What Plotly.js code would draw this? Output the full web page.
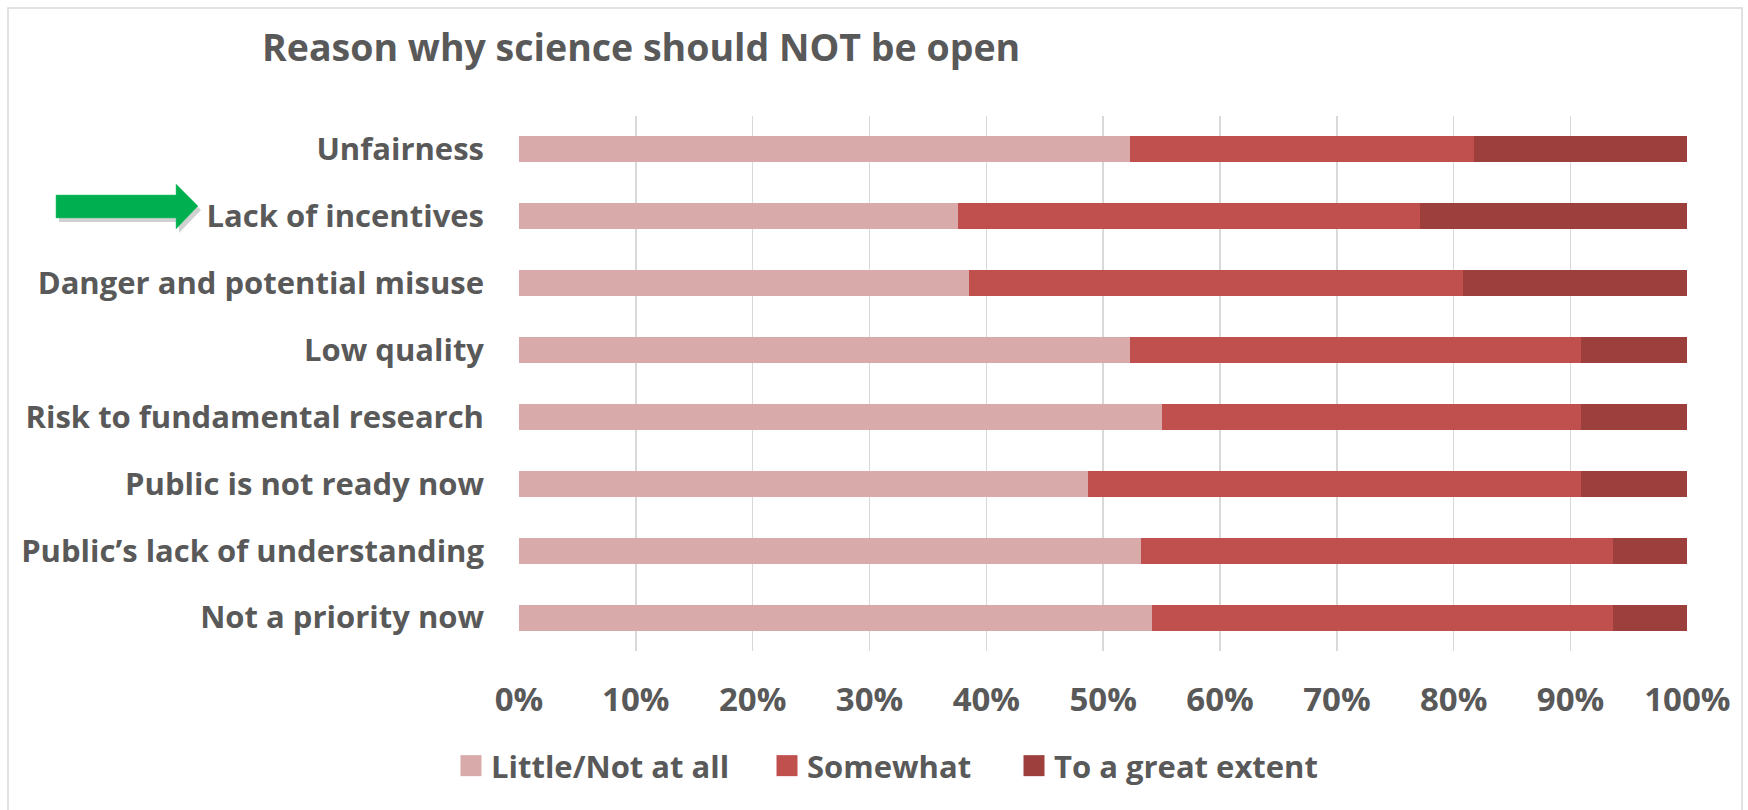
<!DOCTYPE html>
<html>
<head>
<meta charset="utf-8">
<script src="https://cdn.plot.ly/plotly-3.0.1.min.js"></script>
<style>
  html, body { margin: 0; padding: 0; background: #ffffff; }
  #chart { width: 1748px; height: 810px; }
</style>
</head>
<body>
<div id="chart"></div>
<script>
// Reasons listed top to bottom
const reasons = [
  "Unfairness",
  "Lack of incentives",
  "Danger and potential misuse",
  "Low quality",
  "Risk to fundamental research",
  "Public is not ready now",
  "Public\u2019s lack of understanding",
  "Not a priority now"
];

// Share of answers per reason (fractions of 1)
const littleNotAtAll = [0.523, 0.376, 0.385, 0.523, 0.550, 0.487, 0.532, 0.542];
const somewhat       = [0.294, 0.395, 0.423, 0.386, 0.359, 0.422, 0.404, 0.394];
const greatExtent    = [0.183, 0.229, 0.192, 0.091, 0.091, 0.091, 0.064, 0.064];

const seriesNames = ["Little/Not at all", "Somewhat", "To a great extent"];
const seriesColors = ["#D9AAAA", "#C0504D", "#9D3F3D"];
const xTickVals = [0, 0.1, 0.2, 0.3, 0.4, 0.5, 0.6, 0.7, 0.8, 0.9, 1.0];
const xTickText = ["0%", "10%", "20%", "30%", "40%", "50%", "60%", "70%", "80%", "90%", "100%"];

const textColor = "#595959";
const fontFamily = "'Open Sans', 'Liberation Sans', sans-serif";

// Each series gets its own legend box so the entries can be spaced freely
const legendIds = ["legend", "legend2", "legend3"];
const legendLeft = [451, 767, 1014];

const seriesValues = [littleNotAtAll, somewhat, greatExtent];
const traces = seriesValues.map((vals, i) => ({
  type: "bar",
  orientation: "h",
  name: seriesNames[i],
  legend: legendIds[i],
  y: reasons,
  x: vals,
  marker: { color: seriesColors[i], line: { width: 0 } },
  hovertemplate: "%{y}: %{x:.0%}<extra>" + seriesNames[i] + "</extra>"
}));

// Plot area in pixels, used to place the decorations in paper units
const W = 1748, H = 810;
const M = { l: 519, r: 60, t: 116, b: 159 };
const pw = W - M.l - M.r, ph = H - M.t - M.b;
const px = v => (v - M.l) / pw;
const py = v => (H - M.b - v) / ph;

function arrowPath(dx, dy) {
  const pts = [
    [56, 195], [176, 195], [176, 184], [198, 206],
    [176, 229], [176, 218], [56, 218]
  ];
  return pts.map((p, i) => (i ? "L" : "M") + px(p[0] + dx).toFixed(5) + "," + py(p[1] + dy).toFixed(5)).join(" ") + " Z";
}

const legendFont = { family: fontFamily, size: 31, color: textColor, weight: "bold" };

const layout = {
  width: W,
  height: H,
  margin: M,
  paper_bgcolor: "#ffffff",
  plot_bgcolor: "#ffffff",
  barmode: "stack",
  bargap: 0.61,
  font: { family: fontFamily, color: textColor },
  title: {
    text: "<b>Reason why science should NOT be open</b>",
    font: { family: fontFamily, size: 37.5, color: textColor },
    xref: "container",
    yref: "container",
    x: 262 / W,
    xanchor: "left",
    y: 1 - 48 / H,
    yanchor: "middle"
  },
  xaxis: {
    range: [0, 1.0005],
    tickvals: xTickVals,
    ticktext: xTickText,
    showgrid: true,
    gridcolor: "#D9D9D9",
    gridwidth: 1.5,
    zeroline: false,
    showline: false,
    ticks: "",
    ticklabelstandoff: 26,
    tickfont: { family: fontFamily, size: 33, color: textColor, weight: "bold" },
    fixedrange: true
  },
  yaxis: {
    autorange: "reversed",
    showgrid: false,
    zeroline: false,
    showline: false,
    ticks: "",
    ticklabelstandoff: 34,
    tickfont: { family: fontFamily, size: 31, color: textColor, weight: "bold" },
    fixedrange: true
  },
  showlegend: true,
  shapes: [
    // frame around the chart
    {
      type: "rect", xref: "paper", yref: "paper", layer: "below",
      x0: px(8), x1: px(1742), y0: py(830), y1: py(8),
      line: { color: "#D9D9D9", width: 1.5 }, fillcolor: "rgba(0,0,0,0)"
    },
    // arrow shadow
    {
      type: "path", xref: "paper", yref: "paper",
      path: arrowPath(3, 4),
      fillcolor: "rgba(0,0,0,0.18)", line: { width: 0 }
    },
    // green pointer arrow
    {
      type: "path", xref: "paper", yref: "paper",
      path: arrowPath(0, 0),
      fillcolor: "#00B050", line: { color: "#3CC474", width: 0.5 }
    }
  ]
};

legendIds.forEach((id, i) => {
  layout[id] = {
    orientation: "h",
    x: px(legendLeft[i]),
    xanchor: "left",
    y: py(766),
    yanchor: "middle",
    font: legendFont,
    bgcolor: "rgba(0,0,0,0)",
    itemclick: false,
    itemdoubleclick: false
  };
});

Plotly.newPlot("chart", traces, layout, { displayModeBar: false, staticPlot: true }).then(gd => {
  // larger square swatches in the legend, keeping their own placement
  gd.querySelectorAll(".legendpoints path").forEach(p => {
    const t = p.getAttribute("transform") || "";
    p.setAttribute("transform", (t + " scale(1.75)").trim());
  });
});
</script>
</body>
</html>
